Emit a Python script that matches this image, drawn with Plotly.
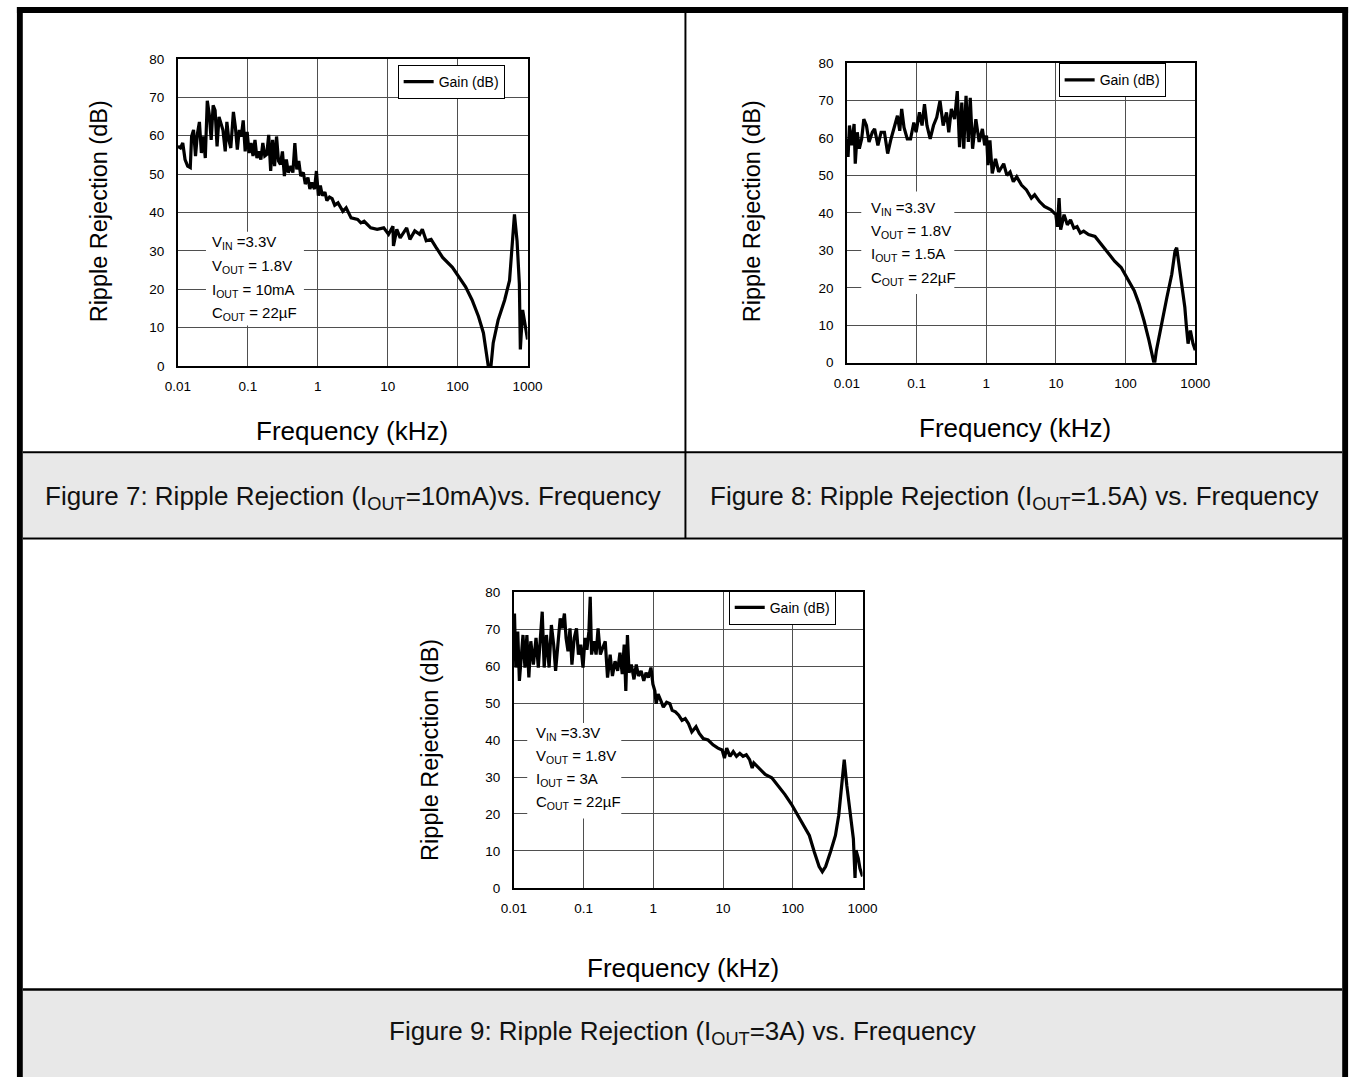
import plotly.graph_objects as go

# ---------------- data ----------------
fig7_freq_khz = [0.01000, 0.01090, 0.01175, 0.01267, 0.01381, 0.01505, 0.01572, 0.01676, 0.01788, 0.01907,
                 0.02034, 0.02170, 0.02314, 0.02469, 0.02634, 0.02809, 0.02996, 0.03196, 0.03409, 0.03636,
                 0.03879, 0.04137, 0.04413, 0.04759, 0.05022, 0.05358, 0.05715, 0.06227, 0.06642, 0.07085,
                 0.07558, 0.08061, 0.08600, 0.09173, 0.09787, 0.1044, 0.1114, 0.1188, 0.1267, 0.1351,
                 0.1441, 0.1538, 0.1641, 0.1750, 0.1866, 0.1991, 0.2124, 0.2265, 0.2416, 0.2577,
                 0.2749, 0.2933, 0.3129, 0.3337, 0.3560, 0.3797, 0.4138, 0.4414, 0.4709, 0.5023,
                 0.5358, 0.5715, 0.6227, 0.6642, 0.7242, 0.7723, 0.8240, 0.8981, 0.9579, 1.022,
                 1.090, 1.163, 1.267, 1.352, 1.473, 1.606, 1.750,
                 1.95, 2.29, 2.55, 3.00, 3.72, 4.14, 4.61, 5.72, 7.08, 8.79,
                 10.3, 11.9, 12.1, 13.5, 15.1, 18.7, 20.8, 24.4, 28.7, 31.3,
                 35.6, 41.8, 49.2, 61.0, 84.2, 104, 130, 161, 199, 234,
                 261, 281, 300, 323, 380, 471, 553, 650, 708, 764,
                 789, 851, 1000]
fig7_gain_db = [57.2, 56.8, 58.1, 53.8, 52.1, 51.7, 59.8, 61.5, 54.7, 60.6,
                63.6, 55.5, 59.8, 54.2, 69.1, 65.7, 58.9, 67.9, 66.6, 57.2,
                64.9, 63.2, 61.5, 55.9, 63.6, 58.9, 56.8, 66.2, 62.3, 56.4,
                61.5, 59.8, 64.0, 55.9, 61.0, 55.5, 58.1, 54.7, 58.9, 54.2,
                55.9, 53.8, 58.1, 54.7, 55.1, 60.2, 50.8, 58.9, 52.1, 59.8,
                53.4, 52.5, 55.9, 49.5, 53.8, 50.4, 52.1, 50.4, 58.1, 51.2,
                53.4, 49.5, 50.4, 47.4, 49.1, 46.1, 47.8, 46.1, 50.8, 44.4,
                47.0, 44.4, 45.3, 43.1, 44.0, 43.6, 41.9,
                42.5, 40.3, 41.2, 38.6, 38.2, 37.3, 37.7, 36.0, 35.6, 36.0,
                34.3, 36.4, 31.3, 35.6, 33.4, 36.0, 33.0, 35.2, 34.3, 35.6,
                32.6, 33.0, 30.9, 28.3, 25.7, 23.2, 20.6, 17.2, 12.9, 8.6,
                3.4, -1.3, 0.0, 6.0, 12.0, 17.2, 22.3, 39.5, 32.6, 21.4,
                4.3, 14.6, 6.9]

fig8_freq_khz = [0.0100, 0.0104, 0.0109, 0.0117, 0.0127, 0.0132, 0.0141, 0.0151, 0.0163, 0.0175,
                 0.0191, 0.0208, 0.0232, 0.0250, 0.0279, 0.0310, 0.0346, 0.0385, 0.0430, 0.0478,
                 0.0532, 0.0574, 0.0612, 0.0661, 0.0736, 0.0820, 0.0914, 0.0985, 0.110, 0.120,
                 0.130, 0.141, 0.157, 0.175, 0.195, 0.217, 0.241, 0.269, 0.290, 0.316,
                 0.352, 0.384, 0.414, 0.446, 0.476, 0.513, 0.554, 0.590, 0.637, 0.710,
                 0.791, 0.881, 0.950, 1.01, 1.06, 1.13, 1.22, 1.36, 1.51, 1.78,
                 1.98, 2.20, 2.45, 2.74, 3.21, 3.78, 4.44, 4.95, 5.82, 6.84,
                 8.49, 9.98, 10.5, 11.1, 11.7, 13.1, 14.6, 16.2, 18.1, 20.1,
                 22.4, 25.0, 29.4, 36.4, 45.2, 56.1, 69.6, 86.4, 107, 133,
                 156, 184, 216, 249, 259, 277, 333, 391, 460, 512,
                 541, 603, 708, 747, 788, 851, 927, 1000]
fig8_gain_db = [59.7, 54.9, 63.3, 58.0, 63.7, 53.1, 61.5, 57.1, 59.7, 65.0,
                63.3, 58.9, 61.5, 62.4, 58.0, 61.5, 61.5, 55.8, 59.7, 62.8,
                65.9, 61.9, 67.7, 62.8, 59.7, 59.7, 64.1, 61.5, 66.8, 63.3,
                69.0, 63.3, 59.7, 63.3, 65.5, 69.9, 63.3, 66.8, 61.5, 67.7,
                65.0, 72.5, 57.5, 69.4, 57.1, 71.2, 58.9, 70.7, 57.1, 65.0,
                58.9, 62.4, 58.0, 60.6, 52.7, 59.3, 50.5, 54.4, 50.9, 53.1,
                50.0, 50.9, 48.3, 49.6, 47.4, 46.1, 43.9, 44.8, 43.0, 41.7,
                40.8, 39.5, 36.3, 43.9, 35.5, 39.5, 36.8, 38.1, 35.9, 36.3,
                34.6, 35.1, 34.2, 33.7, 31.5, 29.3, 27.1, 25.4, 22.3, 19.2,
                15.7, 11.2, 6.0, 1.1, -0.6, 3.3, 11.2, 17.4, 23.6, 29.8,
                30.7, 23.6, 14.8, 9.5, 5.1, 8.6, 5.1, 3.3]

fig9_freq_khz = [0.0100, 0.01022, 0.01067, 0.01138, 0.01202, 0.01283, 0.01353, 0.01443, 0.01539, 0.01642,
                 0.01751, 0.01909, 0.02081, 0.02244, 0.02419, 0.02553, 0.02723, 0.02936, 0.03204, 0.03455,
                 0.03725, 0.03973, 0.04285, 0.04621, 0.04929, 0.05315, 0.05611, 0.05985, 0.06384, 0.06809,
                 0.07343, 0.07918, 0.08446, 0.09108, 0.09822, 0.1048, 0.1118, 0.1192, 0.1246, 0.1302,
                 0.1403, 0.1513, 0.1614, 0.1741, 0.1877, 0.2046, 0.2206, 0.2405, 0.2594, 0.2828,
                 0.3083, 0.3325, 0.3585, 0.3824, 0.4034, 0.4256, 0.4494, 0.4844, 0.5281, 0.5694,
                 0.6140, 0.6694, 0.7298, 0.7870, 0.8486, 0.9251, 0.9868, 1.052, 1.099, 1.172,
                 1.278, 1.393, 1.552, 1.729, 1.865, 2.077, 2.314, 2.577, 2.871, 3.198,
                 3.562, 4.096, 4.563, 5.191, 6.103, 7.176, 8.438, 9.708, 10.47, 11.28,
                 12.57, 14.00, 15.60, 17.38, 19.36, 21.56, 24.02, 26.17, 27.62, 32.47,
                 40.24, 49.96, 61.94, 76.84, 95.32, 118.3, 146.7, 172.6, 202.9, 238.5,
                 265.2, 295.7, 347.7, 408.8, 455.2, 507.0, 546.5, 595.9, 663.7, 739.1,
                 780.5, 805.7, 868.4, 917.2, 1000]
fig9_gain_db = [67.6, 74.2, 59.6, 69.3, 56.0, 63.1, 68.4, 59.6, 68.4, 56.9,
                66.7, 60.4, 67.6, 59.6, 69.3, 74.7, 59.6, 68.4, 59.6, 71.1,
                65.8, 58.7, 65.8, 72.9, 70.2, 74.2, 67.6, 64.0, 70.2, 60.4,
                67.6, 70.2, 63.1, 65.8, 59.6, 67.6, 64.4, 69.3, 78.7, 63.1,
                66.7, 63.1, 70.2, 63.1, 64.9, 66.7, 56.9, 63.1, 57.3, 61.3,
                58.7, 63.6, 57.8, 65.8, 53.3, 68.4, 58.2, 60.4, 56.4, 60.4,
                57.3, 58.7, 56.0, 58.2, 56.9, 59.6, 55.1, 53.3, 49.8, 52.4,
                50.7, 48.9, 50.2, 49.8, 48.0, 47.6, 46.7, 45.3, 45.8, 44.4,
                42.2, 43.6, 41.8, 40.4, 40.0, 38.7, 37.8, 37.3, 35.1, 37.8,
                35.6, 36.9, 35.6, 36.4, 35.6, 36.0, 34.7, 32.4, 33.8, 32.4,
                30.7, 29.8, 27.6, 25.3, 22.7, 19.6, 16.9, 14.2, 9.8, 5.8,
                4.4, 5.8, 9.8, 14.2, 19.6, 27.6, 34.7, 27.6, 20.4, 13.3,
                2.7, 10.2, 8.0, 5.3, 3.1]

x_tick_values = [0.01, 0.1, 1, 10, 100, 1000]
x_tick_labels = ["0.01", "0.1", "1", "10", "100", "1000"]
y_tick_values = [0, 10, 20, 30, 40, 50, 60, 70, 80]

series_name = "Gain (dB)"
x_title = "Frequency (kHz)"
y_title = "Ripple Rejection (dB)"
conditions_fig7 = ["V<sub>IN</sub> =3.3V", "V<sub>OUT</sub> = 1.8V", "I<sub>OUT</sub> = 10mA", "C<sub>OUT</sub> = 22µF"]
conditions_fig8 = ["V<sub>IN</sub> =3.3V", "V<sub>OUT</sub> = 1.8V", "I<sub>OUT</sub> = 1.5A", "C<sub>OUT</sub> = 22µF"]
conditions_fig9 = ["V<sub>IN</sub> =3.3V", "V<sub>OUT</sub> = 1.8V", "I<sub>OUT</sub> = 3A", "C<sub>OUT</sub> = 22µF"]
caption_fig7 = "Figure 7: Ripple Rejection (I<sub>OUT</sub>=10mA)vs. Frequency"
caption_fig8 = "Figure 8: Ripple Rejection (I<sub>OUT</sub>=1.5A) vs. Frequency"
caption_fig9 = "Figure 9: Ripple Rejection (I<sub>OUT</sub>=3A) vs. Frequency"

# ---------------- layout helpers (reference pixel -> paper) ----------------
W, H = 1367, 1085
FONT = "Liberation Sans, Arial, Helvetica, sans-serif"
GRID = "#4f4f4f"
CAPTION_BG = "#e8e8e8"


def px(x):
    return x / W


def py(y):
    return 1 - y / H


panels = [
    dict(box=(168.3, 52.7, 525.3, 364.0), freq=fig7_freq_khz, gain=fig7_gain_db,
         legend_xy=(392.7, 58.8), cond=conditions_fig7, cond_box=(197, 228, 297, 323),
         cond_x=201, cond_y=[239, 263, 287.5, 311], ytitle=(88, 207), xtitle=(346, 430)),
    dict(box=(851.3, 56.7, 1207.0, 360.7), freq=fig8_freq_khz, gain=fig8_gain_db,
         legend_xy=(1067.5, 57.0), cond=conditions_fig8, cond_box=(866, 187, 961, 291),
         cond_x=874, cond_y=[204, 227.5, 251, 275], ytitle=(754.6, 207), xtitle=(1023, 427)),
    dict(box=(511.3, 593.3, 867.3, 893.3), freq=fig9_freq_khz, gain=fig9_gain_db,
         legend_xy=(730.7, 592.0), cond=conditions_fig9, cond_box=(525, 726, 621, 823),
         cond_x=532, cond_y=[736.7, 760, 783.3, 806.7], ytitle=(425, 753), xtitle=(684, 974)),
]

fig = go.Figure()
shapes = []
annotations = []
layout = dict(
    width=W, height=H, margin=dict(l=0, r=0, t=0, b=0),
    paper_bgcolor="white", plot_bgcolor="white",
    font=dict(family=FONT, color="black"),
    showlegend=True,
)


def rect(x0, y0, x1, y1, color, layer="below"):
    shapes.append(dict(type="rect", xref="paper", yref="paper",
                       x0=px(x0), x1=px(x1), y0=py(y1), y1=py(y0),
                       fillcolor=color, line=dict(width=0), layer=layer))


# table background and frame
rect(10, 452.5, 1357, 538, CAPTION_BG)
rect(10, 997, 1357, 1085, CAPTION_BG)
rect(4, 0, 1363, 6, "black", "above")
rect(4, 0, 10, 1085, "black", "above")
rect(1357, 0, 1363, 1085, "black", "above")
rect(10, 450.5, 1357, 452.5, "black", "above")
rect(10, 538, 1357, 540, "black", "above")
rect(10, 995, 1357, 997.5, "black", "above")
rect(685.5, 6, 687.5, 539, "black", "above")

for i, p in enumerate(panels):
    n = "" if i == 0 else str(i + 1)
    x0, y0, x1, y1 = p["box"]
    legname = "legend" + n
    fig.add_trace(go.Scatter(
        x=p["freq"], y=p["gain"], mode="lines", name=series_name,
        line=dict(color="black", width=3.2),
        xaxis="x" + n, yaxis="y" + n, legend=legname, showlegend=True,
    ))
    layout["xaxis" + n] = dict(
        type="log", range=[-2, 3], domain=[px(x0), px(x1)], anchor="y" + n,
        tickvals=x_tick_values, ticktext=x_tick_labels, ticks="",
        showgrid=True, gridcolor=GRID, gridwidth=1.4, zeroline=False,
        showline=True, linecolor="black", linewidth=1.5, mirror=True,
        tickfont=dict(size=13.5, family=FONT, color="black"), ticklabelstandoff=7,
    )
    layout["yaxis" + n] = dict(
        range=[0, 80], domain=[py(y1), py(y0)], anchor="x" + n,
        tickvals=y_tick_values, ticks="",
        showgrid=True, gridcolor=GRID, gridwidth=1.4, zeroline=False,
        showline=True, linecolor="black", linewidth=1.5, mirror=True,
        tickfont=dict(size=13.5, family=FONT, color="black"), ticklabelstandoff=9,
    )
    lx, ly = p["legend_xy"]
    layout[legname] = dict(
        x=px(lx), y=py(ly), xanchor="left", yanchor="top",
        bgcolor="white", bordercolor="black", borderwidth=1,
        font=dict(size=14, family=FONT, color="black"),
        itemwidth=30, tracegroupgap=0,
    )
    bx0, by0, bx1, by1 = p["cond_box"]
    rect(bx0, by0, bx1, by1, "white", "above")
    for txt, ty in zip(p["cond"], p["cond_y"]):
        annotations.append(dict(text=txt, xref="paper", yref="paper",
                                x=px(p["cond_x"]), y=py(ty), xanchor="left", yanchor="middle",
                                showarrow=False, font=dict(size=15, family=FONT, color="black")))
    tx, ty = p["ytitle"]
    annotations.append(dict(text=y_title, xref="paper", yref="paper", x=px(tx), y=py(ty),
                            xanchor="center", yanchor="middle", textangle=-90, showarrow=False,
                            font=dict(size=23.5, family=FONT, color="black")))
    tx, ty = p["xtitle"]
    annotations.append(dict(text=x_title, xref="paper", yref="paper", x=px(tx), y=py(ty),
                            xanchor="center", yanchor="middle", showarrow=False,
                            font=dict(size=26, family=FONT, color="black")))

for txt, cx, cy in [(caption_fig7, 347, 497), (caption_fig8, 1022, 497), (caption_fig9, 683.5, 1040)]:
    annotations.append(dict(text=txt, xref="paper", yref="paper", x=px(cx), y=py(cy),
                            xanchor="center", yanchor="middle", showarrow=False,
                            font=dict(size=26, family=FONT, color="#111111")))

layout["shapes"] = shapes
layout["annotations"] = annotations
fig.update_layout(**layout)

fig.write_html(
    "out.html",
    config={"displayModeBar": False},
    post_script="document.body.style.margin='0px';document.body.style.overflow='hidden';",
)
